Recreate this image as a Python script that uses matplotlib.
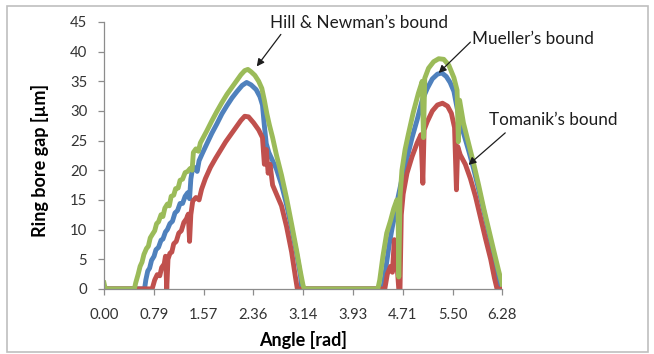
import matplotlib
matplotlib.use("Agg")
import matplotlib.pyplot as plt
from matplotlib.patches import Rectangle


COLORS = {
    "mueller": "#4F81BD",
    "tomanik": "#C0504D",
    "hill": "#9BBB59",
    "axis": "#8C8C8C",
    "frame": "#BFBFBF",
    "text": "#1D1D1D",
}

# Hill & Newman's bound (green)
hill_angle = [0.00, 0.02, 0.48, 0.50, 0.54, 0.57, 0.60, 0.63, 0.67, 0.70, 0.73, 0.77, 0.80,
              0.83, 0.86, 0.90, 0.93, 0.96, 1.00, 1.03, 1.06, 1.10, 1.13, 1.17, 1.20, 1.24,
              1.28, 1.32, 1.36, 1.39, 1.41, 1.45, 1.49, 1.52, 1.57, 1.62, 1.70, 1.78, 1.86,
              1.94, 2.02, 2.10, 2.16, 2.22, 2.27, 2.32, 2.38, 2.44, 2.49, 2.53, 2.57, 2.61,
              2.66, 2.72, 2.80, 2.88, 2.96, 3.04, 3.10, 3.14, 3.16, 4.32, 4.35, 4.40, 4.46,
              4.52, 4.57, 4.62, 4.64, 4.65, 4.67, 4.70, 4.75, 4.80, 4.88, 4.96, 5.02, 5.04,
              5.06, 5.12, 5.20, 5.28, 5.36, 5.44, 5.52, 5.57, 5.59, 5.61, 5.67, 5.75, 5.83,
              5.91, 5.99, 6.07, 6.15, 6.22, 6.28]
hill_gap = [1.0, 0.0, 0.0, 1.0, 2.5, 3.8, 4.5, 5.8, 6.8, 7.2, 8.6, 9.3, 9.8,
            11.0, 11.3, 12.5, 12.2, 13.6, 14.3, 14.0, 15.6, 15.8, 16.9, 17.0, 18.3, 18.5,
            19.6, 19.8, 20.3, 20.0, 23.0, 23.6, 23.2, 24.6, 25.6, 26.6, 28.3, 29.9, 31.4,
            32.8, 34.0, 35.2, 36.1, 36.8, 37.0, 36.6, 36.0, 35.0, 33.8, 31.8, 29.5, 27.6,
            25.5, 22.6, 19.2, 15.3, 10.9, 6.4, 2.8, 0.6, 0.0, 0.0, 1.5, 5.5, 9.4,
            11.5, 13.5, 15.0, 13.0, 2.0, 15.5, 20.0, 23.5, 26.0, 29.8, 33.0, 35.0, 25.5,
            35.5, 37.2, 38.3, 38.8, 38.7, 37.7, 35.6, 33.5, 24.8, 31.8, 28.0, 24.6, 21.2,
            17.5, 13.6, 10.0, 6.4, 3.3, 0.8]

# Mueller's bound (blue)
mueller_angle = [0.00, 0.64, 0.66, 0.69, 0.72, 0.75, 0.79, 0.82, 0.86, 0.90, 0.93, 0.97, 1.00,
                 1.04, 1.08, 1.12, 1.16, 1.20, 1.24, 1.28, 1.32, 1.35, 1.37, 1.40, 1.44, 1.47,
                 1.50, 1.55, 1.62, 1.70, 1.78, 1.86, 1.94, 2.02, 2.10, 2.18, 2.25, 2.32, 2.40,
                 2.46, 2.50, 2.53, 2.56, 2.60, 2.66, 2.72, 2.80, 2.88, 2.96, 3.04, 3.10, 3.12,
                 4.40, 4.44, 4.50, 4.55, 4.60, 4.64, 4.67, 4.72, 4.78, 4.86, 4.94, 5.02, 5.10,
                 5.18, 5.26, 5.33, 5.40, 5.46, 5.52, 5.57, 5.62, 5.67, 5.75, 5.83, 5.91, 5.99,
                 6.07, 6.15, 6.22, 6.25, 6.28]
mueller_gap = [0.0, 0.0, 1.5, 3.0, 3.5, 4.8, 5.5, 6.6, 7.0, 8.2, 8.4, 9.6, 10.0,
               11.0, 11.4, 12.8, 13.2, 14.4, 14.4, 15.6, 16.2, 15.2, 18.5, 20.5, 20.4, 19.8,
               21.6, 22.8, 24.4, 26.2, 27.8, 29.5, 30.9, 32.2, 33.3, 34.3, 34.8, 34.4, 33.6,
               32.4, 31.0, 27.5, 24.5, 23.0, 21.6, 20.2, 17.6, 14.2, 10.2, 5.9, 2.2, 0.0,
               0.0, 3.0, 7.5, 10.5, 13.0, 15.5, 17.0, 19.5, 22.0, 25.5, 28.5, 31.8, 33.8,
               35.4, 36.2, 36.4, 35.8, 34.8, 33.3, 30.5, 28.0, 26.3, 23.4, 20.3, 16.8, 13.2,
               9.4, 5.6, 1.8, 0.0, 0.0]

# Tomanik's bound (red)
tomanik_angle = [0.00, 0.76, 0.80, 0.84, 0.88, 0.91, 0.95, 0.97, 0.99, 1.01, 1.04, 1.07, 1.10,
                 1.14, 1.18, 1.22, 1.26, 1.30, 1.33, 1.35, 1.37, 1.40, 1.45, 1.50, 1.54, 1.60,
                 1.68, 1.76, 1.84, 1.92, 2.00, 2.08, 2.16, 2.22, 2.28, 2.36, 2.44, 2.50, 2.53,
                 2.56, 2.59, 2.62, 2.66, 2.72, 2.80, 2.88, 2.96, 3.02, 3.05, 4.43, 4.47, 4.52,
                 4.55, 4.58, 4.60, 4.63, 4.65, 4.67, 4.69, 4.72, 4.78, 4.86, 4.94, 5.00, 5.03,
                 5.05, 5.10, 5.18, 5.26, 5.34, 5.42, 5.48, 5.53, 5.56, 5.58, 5.62, 5.70, 5.78,
                 5.86, 5.94, 6.02, 6.10, 6.16, 6.20, 6.28]
tomanik_gap = [0.0, 0.0, 1.5, 2.4, 2.2, 3.6, 4.2, 5.5, 0.0, 5.0, 6.0, 6.2, 7.6,
               8.0, 9.4, 9.8, 11.2, 11.8, 12.6, 8.0, 12.5, 14.8, 15.4, 15.0, 16.8, 18.6,
               20.5, 22.0, 23.4, 24.8, 26.0, 27.2, 28.4, 29.1, 29.0, 28.0, 26.8, 25.5, 21.0,
               23.5, 19.5, 21.0, 17.5, 16.0, 14.0, 10.5, 6.2, 2.0, 0.0, 0.0, 2.5, 3.8,
               2.8, 8.3, 4.0, 3.0, 0.0, 0.0, 12.5, 16.0, 19.5, 22.3, 24.6, 26.0, 17.8,
               26.8, 28.2, 30.0, 31.0, 31.3, 30.8, 29.6, 27.2, 16.7, 24.0, 22.6, 21.0, 18.6,
               15.6, 12.0, 8.4, 5.0, 1.8, 0.0, 0.0]

x_ticks = [0.000, 0.785, 1.571, 2.356, 3.142, 3.927, 4.712, 5.498, 6.283]
y_ticks = [0, 5, 10, 15, 20, 25, 30, 35, 40, 45]

# callouts in data units: text centre, arrow tail, arrow head
labels = ["Hill & Newman\u2019s bound", "Mueller\u2019s bound", "Tomanik\u2019s bound"]
text_spots = [(4.03, 44.8), (6.76, 42.1), (7.09, 28.5)]
arrow_tails = [(2.79, 42.9), (5.78, 41.6), (6.33, 26.3)]
arrow_heads = [(2.41, 37.5), (5.28, 36.4), (5.75, 20.9)]

plt.rcParams["font.family"] = ["Lato", "DejaVu Sans"]

fig = plt.figure(figsize=(6.54, 3.54), dpi=100)
ax = fig.add_axes([0.159, 0.184, 0.609, 0.754])

ax.plot(mueller_angle, mueller_gap, color=COLORS["mueller"], lw=3.5)
ax.plot(tomanik_angle, tomanik_gap, color=COLORS["tomanik"], lw=3.5)
ax.plot(hill_angle, hill_gap, color=COLORS["hill"], lw=3.5)

for label, spot, tail, head in zip(labels, text_spots, arrow_tails, arrow_heads):
    ax.annotate("", xy=head, xytext=tail,
                arrowprops=dict(arrowstyle="-|>", color="#1D1D1D", lw=0.9,
                                mutation_scale=11, shrinkA=0, shrinkB=0),
                annotation_clip=False)
    ax.text(spot[0], spot[1], label, ha="center", va="center", fontsize=12.3,
            color=COLORS["text"], clip_on=False)

ax.set_xlim(0, 6.283)
ax.set_ylim(0, 45)
ax.set_xticks(x_ticks)
ax.set_xticklabels([f"{t:.2f}" for t in x_ticks])
ax.set_yticks(y_ticks)

for side in ["top", "right"]:
    ax.spines[side].set_visible(False)
for side in ["left", "bottom"]:
    ax.spines[side].set_color(COLORS["axis"])
    ax.spines[side].set_linewidth(0.9)

ax.tick_params(axis="both", direction="out", length=4, width=0.9, color=COLORS["axis"],
               labelsize=10.7, labelcolor="#333333")
ax.tick_params(axis="y", pad=8)
ax.tick_params(axis="x", pad=10)

ax.set_xlabel("Angle [rad]", fontsize=13, fontweight="bold", labelpad=6)
ax.set_ylabel("Ring bore gap [\u00b5m]", fontsize=13, fontweight="bold")
ax.yaxis.set_label_coords(-0.137, 0.48)

fig.patches.append(Rectangle((6.5 / 654, 2 / 354), 641.5 / 654, 346.5 / 354,
                             transform=fig.transFigure, fill=False,
                             edgecolor=COLORS["frame"], lw=1.2))

fig.savefig("out.png", dpi=100)
